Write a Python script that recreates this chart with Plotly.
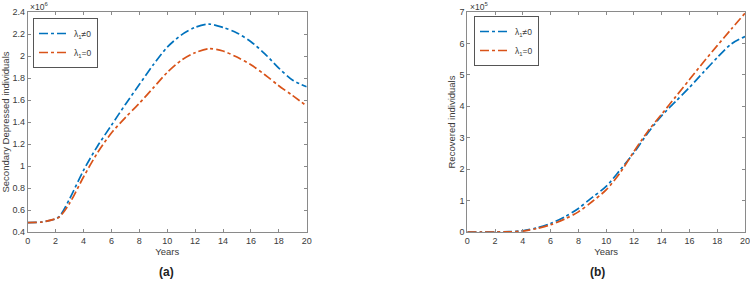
import plotly.graph_objects as go

# Panel (a): Secondary Depressed individuals (x10^6)
years_a = [0, 1, 2, 2.3, 3, 4, 5, 6, 7, 8, 9, 10, 11, 12, 13, 14, 15, 16, 17, 18, 19, 20]
sd_lam_nonzero = [0.485, 0.49, 0.52, 0.545, 0.70, 0.96, 1.18, 1.37, 1.56, 1.74, 1.92, 2.08, 2.19, 2.26, 2.29, 2.26, 2.21, 2.13, 2.02, 1.89, 1.78, 1.72]
sd_lam_zero = [0.485, 0.49, 0.52, 0.54, 0.66, 0.90, 1.12, 1.30, 1.44, 1.57, 1.71, 1.85, 1.96, 2.03, 2.066, 2.045, 1.99, 1.92, 1.83, 1.73, 1.64, 1.545]

# Panel (b): Recovered individuals (x10^5)
years_b = [0, 1, 2, 3, 4, 5, 6, 7, 8, 9, 10, 11, 12, 13, 14, 15, 16, 17, 18, 19, 20]
rec_lam_nonzero = [0, 0, 0, 0.01, 0.04, 0.13, 0.27, 0.48, 0.75, 1.10, 1.45, 1.97, 2.52, 3.15, 3.70, 4.15, 4.60, 5.08, 5.55, 5.98, 6.22]
rec_lam_zero = [0, 0, 0, 0.005, 0.03, 0.11, 0.23, 0.41, 0.64, 0.97, 1.34, 1.88, 2.56, 3.20, 3.75, 4.30, 4.85, 5.40, 5.93, 6.45, 6.96]

x_ticks = [0, 2, 4, 6, 8, 10, 12, 14, 16, 18, 20]
ya_ticks = [0.4, 0.6, 0.8, 1, 1.2, 1.4, 1.6, 1.8, 2, 2.2, 2.4]
ya_labels = ["0.4", "0.6", "0.8", "1", "1.2", "1.4", "1.6", "1.8", "2", "2.2", "2.4"]
yb_ticks = [0, 1, 2, 3, 4, 5, 6, 7]

BLUE = "#0072BD"
RED = "#D95319"
AX = "#8a8a8a"
TXT = "#3a3a3a"
FONT = "Liberation Sans, Arial, sans-serif"

fig = go.Figure()
fig.add_trace(go.Scatter(x=years_a, y=sd_lam_nonzero, mode="lines", name="λ<sub>1</sub>≠0",
                         line=dict(color=BLUE, width=1.7, dash="dashdot", shape="spline", smoothing=0.8),
                         xaxis="x", yaxis="y", legend="legend"))
fig.add_trace(go.Scatter(x=years_a, y=sd_lam_zero, mode="lines", name="λ<sub>1</sub>=0",
                         line=dict(color=RED, width=1.7, dash="dashdot", shape="spline", smoothing=0.8),
                         xaxis="x", yaxis="y", legend="legend"))
fig.add_trace(go.Scatter(x=years_b, y=rec_lam_nonzero, mode="lines", name="λ<sub>1</sub>≠0",
                         line=dict(color=BLUE, width=1.7, dash="dashdot", shape="spline", smoothing=0.8),
                         xaxis="x2", yaxis="y2", legend="legend2"))
fig.add_trace(go.Scatter(x=years_b, y=rec_lam_zero, mode="lines", name="λ<sub>1</sub>=0",
                         line=dict(color=RED, width=1.7, dash="dashdot", shape="spline", smoothing=0.8),
                         xaxis="x2", yaxis="y2", legend="legend2"))

axis_common = dict(showline=True, linecolor=AX, linewidth=1, mirror="ticks", ticks="inside",
                   ticklen=3, tickcolor=AX, showgrid=False, zeroline=False, automargin=False,
                   ticklabeloverflow="allow",
                   tickfont=dict(size=9, color=TXT, family=FONT))

ydom = [1 - 232 / 286, 1 - 12 / 286]
title_font = dict(size=9.5, color=TXT, family=FONT)
fig.update_layout(
    width=750, height=286, margin=dict(l=0, r=0, t=0, b=0),
    paper_bgcolor="white", plot_bgcolor="white",
    font=dict(family=FONT, color=TXT),
    xaxis=dict(domain=[27.7 / 750, 306.7 / 750], range=[0, 20], tickvals=x_ticks, anchor="y",
               title=dict(text="Years", font=title_font, standoff=3), **axis_common),
    yaxis=dict(domain=ydom, range=[0.4, 2.4], tickvals=ya_ticks, ticktext=ya_labels, anchor="x",
               title=dict(text="Secondary Depressed individuals", font=title_font, standoff=2),
               **axis_common),
    xaxis2=dict(domain=[467.3 / 750, 745 / 750], range=[0, 20], tickvals=x_ticks, anchor="y2",
                title=dict(text="Years", font=title_font, standoff=3), **axis_common),
    yaxis2=dict(domain=ydom, range=[0, 7], tickvals=yb_ticks, anchor="x2",
                title=dict(text="Recovered individuals", font=title_font, standoff=2),
                **axis_common),
    legend=dict(x=33 / 750, y=1 - 18 / 286, xanchor="left", yanchor="top", bgcolor="white",
                bordercolor="#555555", borderwidth=1, font=dict(size=8.5, color=TXT, family=FONT),
                tracegroupgap=0, itemwidth=30),
    legend2=dict(x=474 / 750, y=1 - 16 / 286, xanchor="left", yanchor="top", bgcolor="white",
                 bordercolor="#555555", borderwidth=1, font=dict(size=8.5, color=TXT, family=FONT),
                 tracegroupgap=0, itemwidth=30),
    showlegend=True,
)

fig.add_annotation(text="×10<sup>6</sup>", xref="paper", yref="paper", x=28 / 750, y=ydom[1],
                   xanchor="left", yanchor="bottom", showarrow=False, yshift=-2,
                   font=dict(size=8.5, color=TXT, family=FONT))
fig.add_annotation(text="×10<sup>5</sup>", xref="paper", yref="paper", x=468 / 750, y=ydom[1],
                   xanchor="left", yanchor="bottom", showarrow=False, yshift=-2,
                   font=dict(size=8.5, color=TXT, family=FONT))
fig.add_annotation(text="<b>(a)</b>", xref="paper", yref="paper", x=166 / 750, y=1 - 272 / 286,
                   xanchor="center", yanchor="middle", showarrow=False,
                   font=dict(size=12, color="#222222", family=FONT))
fig.add_annotation(text="<b>(b)</b>", xref="paper", yref="paper", x=597 / 750, y=1 - 272 / 286,
                   xanchor="center", yanchor="middle", showarrow=False,
                   font=dict(size=12, color="#222222", family=FONT))

fig.write_html("out.html", config={"displayModeBar": False},
               post_script="document.body.style.margin='0';document.body.style.overflow='hidden';")
